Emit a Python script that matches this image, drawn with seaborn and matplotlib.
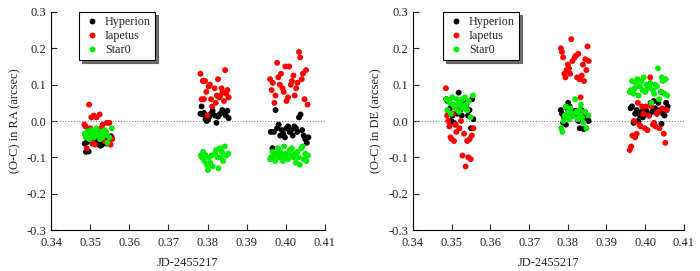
import pandas as pd
import matplotlib
matplotlib.use("Agg")
import matplotlib.pyplot as plt
import seaborn as sns

# ============================================================
# Data
# ============================================================

objects = ["Hyperion", "Iapetus", "Star0"]
colors = {"Hyperion": "black", "Iapetus": "red", "Star0": "#00ee00"}

hyp_t = [0.3486, 0.3489, 0.3492, 0.3496, 0.3499, 0.3502, 0.3506, 0.3510, 0.3514, 0.3518,
         0.3522, 0.3526, 0.3530, 0.3534, 0.3538, 0.3542, 0.3546, 0.3550, 0.3553, 0.3556,
         0.3782, 0.3785, 0.3788, 0.3791, 0.3795, 0.3798, 0.3801, 0.3805, 0.3809, 0.3813,
         0.3819, 0.3823, 0.3827, 0.3831, 0.3835, 0.3838, 0.3841, 0.3844, 0.3847, 0.3851, 0.3854,
         0.3962, 0.3966, 0.3970, 0.3974, 0.3978, 0.3982, 0.3986, 0.3990, 0.3994, 0.3998,
         0.4002, 0.4006, 0.4010, 0.4014, 0.4018, 0.4022, 0.4026, 0.4030, 0.4034, 0.4038,
         0.4042, 0.4046, 0.4050, 0.4054, 0.4058]
hyp_ra = [-0.062, -0.085, -0.058, -0.084, -0.045, -0.050, -0.062, -0.058, -0.048, -0.064,
          -0.055, -0.068, -0.066, -0.060, -0.052, -0.062, -0.055, -0.050, -0.042, -0.048,
          0.020, 0.040, 0.018, 0.022, 0.005, 0.000, 0.003, 0.012, 0.020, 0.028,
          0.015, -0.005, 0.012, 0.018, 0.022, 0.030, 0.025, 0.020, 0.015, 0.028, 0.008,
          -0.030, -0.075, -0.030, 0.030, -0.020, -0.010, -0.040, -0.025, -0.035, -0.045,
          -0.020, -0.015, -0.030, -0.025, -0.040, -0.015, -0.020, -0.030, 0.010, 0.018,
          -0.025, -0.040, -0.050, -0.060, -0.045]
hyp_de = [0.060, 0.055, 0.025, 0.035, 0.000, 0.015, -0.005, -0.010, 0.020, 0.078,
          0.030, 0.015, 0.055, 0.035, 0.045, 0.015, 0.030, -0.020, 0.060, 0.005,
          0.030, 0.020, -0.005, 0.010, -0.010, 0.035, 0.050, 0.040, 0.025, 0.015,
          0.028, 0.020, 0.000, -0.020, 0.030, 0.010, -0.022, 0.025, 0.015, 0.005, 0.000,
          0.035, 0.040, -0.005, 0.020, 0.030, 0.000, 0.015, 0.025, 0.010, 0.020,
          0.030, 0.020, 0.015, 0.050, 0.025, 0.055, 0.035, 0.020, 0.050, 0.030,
          -0.008, 0.020, 0.015, 0.050, 0.040]

iap_t = [0.3485, 0.3488, 0.3491, 0.3494, 0.3497, 0.3500, 0.3503, 0.3506, 0.3509, 0.3512, 0.3516,
         0.3520, 0.3524, 0.3528, 0.3532, 0.3536, 0.3540, 0.3543, 0.3546, 0.3549, 0.3552, 0.3556,
         0.3782, 0.3785, 0.3788, 0.3791, 0.3794, 0.3797, 0.3800, 0.3803, 0.3806, 0.3809, 0.3812, 0.3818,
         0.3821, 0.3824, 0.3827, 0.3830, 0.3833, 0.3836, 0.3839, 0.3842, 0.3845, 0.3848, 0.3851, 0.3854,
         0.3960, 0.3964, 0.3967, 0.3971, 0.3974, 0.3978, 0.3981, 0.3985, 0.3988, 0.3992,
         0.3995, 0.3999, 0.4002, 0.4006, 0.4009, 0.4013, 0.4016, 0.4020, 0.4023, 0.4027,
         0.4030, 0.4034, 0.4037, 0.4041, 0.4044, 0.4048, 0.4052, 0.4056]
iap_ra = [-0.010, -0.015, -0.075, -0.040, 0.045, -0.020, 0.010, -0.060, 0.015, -0.065, 0.010,
          -0.030, 0.018, -0.020, -0.010, -0.055, -0.030, -0.005, -0.060, -0.005, -0.065, -0.050,
          0.130, 0.060, 0.110, 0.060, 0.110, 0.080, 0.015, 0.095, 0.100, 0.060, 0.040, 0.090,
          0.050, 0.070, 0.115, 0.065, 0.070, 0.090, 0.080, 0.055, 0.140, 0.075, 0.085, 0.065,
          0.115, 0.085, 0.105, 0.050, 0.070, 0.160, 0.120, 0.100, 0.130, 0.090,
          0.080, 0.150, 0.055, 0.065, 0.150, 0.100, 0.110, 0.125, 0.070, 0.090,
          0.105, 0.190, 0.175, 0.115, 0.130, 0.060, 0.140, 0.045]
iap_de = [0.090, 0.015, 0.000, -0.015, -0.045, -0.050, 0.020, -0.055, -0.010, -0.030, 0.030,
          -0.020, 0.000, -0.095, -0.035, -0.125, -0.055, -0.100, -0.050, -0.105, -0.040, -0.020,
          0.200, 0.190, 0.175, 0.130, 0.120, 0.140, 0.155, 0.145, 0.130, 0.225, 0.165, 0.175,
          0.180, 0.120, 0.185, 0.115, 0.065, 0.125, 0.155, 0.110, 0.170, 0.140, 0.205, 0.165,
          -0.080, -0.070, -0.040, 0.000, -0.045, -0.035, 0.050, -0.010, -0.015, 0.040,
          0.020, -0.020, 0.040, -0.025, 0.015, 0.120, 0.040, -0.010, -0.005, -0.015,
          0.020, 0.025, -0.020, 0.080, 0.035, -0.035, -0.060, 0.030]

star_t = [0.3486, 0.3489, 0.3492, 0.3495, 0.3498, 0.3501, 0.3504, 0.3507, 0.3510, 0.3513, 0.3516,
          0.3519, 0.3522, 0.3525, 0.3528, 0.3531, 0.3534, 0.3537, 0.3540, 0.3544, 0.3549, 0.3555,
          0.3783, 0.3786, 0.3789, 0.3792, 0.3795, 0.3798, 0.3801, 0.3804, 0.3807, 0.3810, 0.3813,
          0.3819, 0.3822, 0.3825, 0.3828, 0.3831, 0.3834, 0.3837, 0.3840, 0.3844, 0.3848, 0.3853,
          0.3960, 0.3963, 0.3966, 0.3970, 0.3973, 0.3976, 0.3980, 0.3983, 0.3986, 0.3990,
          0.3993, 0.3996, 0.4000, 0.4003, 0.4006, 0.4010, 0.4013, 0.4016, 0.4020, 0.4023,
          0.4026, 0.4030, 0.4033, 0.4036, 0.4040, 0.4043, 0.4046, 0.4050, 0.4053, 0.4057]
star_ra = [-0.035, -0.045, -0.030, -0.040, -0.050, -0.025, -0.035, -0.030, -0.045, -0.040, -0.020,
           -0.035, -0.040, -0.050, -0.030, -0.045, -0.040, -0.025, -0.035, -0.060, -0.045, -0.020,
           -0.095, -0.100, -0.085, -0.110, -0.095, -0.120, -0.135, -0.100, -0.115, -0.095, -0.125,
           -0.090, -0.080, -0.100, -0.130, -0.075, -0.100, -0.085, -0.110, -0.070, -0.095, -0.090,
           -0.105, -0.100, -0.085, -0.095, -0.110, -0.090, -0.075, -0.100, -0.085, -0.095,
           -0.110, -0.070, -0.090, -0.100, -0.105, -0.080, -0.095, -0.075, -0.100, -0.090,
           -0.115, -0.085, -0.100, -0.120, -0.075, -0.070, -0.105, -0.090, -0.110, -0.095]
star_de = [0.060, 0.030, 0.055, 0.050, 0.020, 0.065, 0.045, 0.040, 0.035, 0.060, 0.045,
           0.025, 0.050, 0.040, 0.060, 0.035, 0.065, 0.045, 0.030, 0.055, 0.010, 0.070,
           -0.020, -0.030, 0.000, 0.015, 0.040, 0.010, 0.025, 0.005, 0.035, 0.020, 0.015,
           0.060, 0.025, 0.005, 0.020, 0.030, 0.045, 0.010, -0.005, 0.025, -0.020, 0.015,
           0.080, 0.085, 0.110, 0.075, 0.090, 0.105, 0.115, 0.070, 0.095, 0.110,
           0.085, 0.120, 0.080, 0.100, 0.090, 0.095, 0.105, 0.050, 0.085, 0.075,
           0.100, 0.095, 0.145, 0.060, 0.080, 0.120, 0.110, 0.075, 0.115, 0.070]

x_ticks = [0.34, 0.35, 0.36, 0.37, 0.38, 0.39, 0.40, 0.41]
y_ticks = [-0.3, -0.2, -0.1, 0.0, 0.1, 0.2, 0.3]

# ============================================================
# Build long table
# ============================================================

frames = []
for name, t, ra, de in [("Hyperion", hyp_t, hyp_ra, hyp_de),
                        ("Iapetus", iap_t, iap_ra, iap_de),
                        ("Star0", star_t, star_ra, star_de)]:
    frames.append(pd.DataFrame({"JD": t, "RA": ra, "DE": de, "Object": name}))
data = pd.concat(frames, ignore_index=True)

# ============================================================
# Plot
# ============================================================

sns.set_style("ticks")
plt.rcParams["font.family"] = ["Liberation Serif", "DejaVu Serif"]
plt.rcParams["font.size"] = 9
plt.rcParams["axes.unicode_minus"] = False

fig = plt.figure(figsize=(7.0, 2.71), dpi=100)
ax1 = fig.add_axes([0.073, 0.151, 0.391, 0.805])
ax2 = fig.add_axes([0.590, 0.151, 0.387, 0.805])

for ax, col, ylabel, lx in [(ax1, "RA", "(O-C) in RA (arcsec)", 0.102),
                            (ax2, "DE", "(O-C) in DE (arcsec)", 0.11)]:
    ax.axhline(0, color="gray", linestyle=(0, (1, 1.5)), linewidth=0.8, zorder=1)
    sns.scatterplot(data=data, x="JD", y=col, hue="Object", hue_order=objects,
                    palette=colors, s=18, linewidth=0, ax=ax, zorder=2)
    ax.set_xlim(0.34, 0.41)
    ax.set_ylim(-0.3, 0.3)
    ax.set_xticks(x_ticks)
    ax.set_xticklabels([f"{v:.2f}" for v in x_ticks])
    ax.set_yticks(y_ticks)
    ax.set_yticklabels([f"{v:.1f}" for v in y_ticks])
    ax.tick_params(direction="in", length=4, width=0.8, labelsize=9)
    ax.tick_params(axis="x", pad=5)
    for side in ["left", "bottom"]:
        ax.spines[side].set_linewidth(0.8)
        ax.spines[side].set_color("black")
    sns.despine(ax=ax)
    ax.set_xlabel("JD-2455217", fontsize=9, labelpad=6)
    ax.set_ylabel(ylabel, fontsize=9, labelpad=4)
    leg = ax.legend(loc="upper left", bbox_to_anchor=(lx, 1.0), fancybox=False,
                    shadow={"color": "0.3", "alpha": 0.8}, edgecolor="black",
                    framealpha=1, fontsize=8.7, handletextpad=0.3, borderpad=0.35,
                    labelspacing=0.15, handlelength=1.5, borderaxespad=0.0)
    leg.get_frame().set_linewidth(0.8)

plt.savefig("out.png", dpi=100)
